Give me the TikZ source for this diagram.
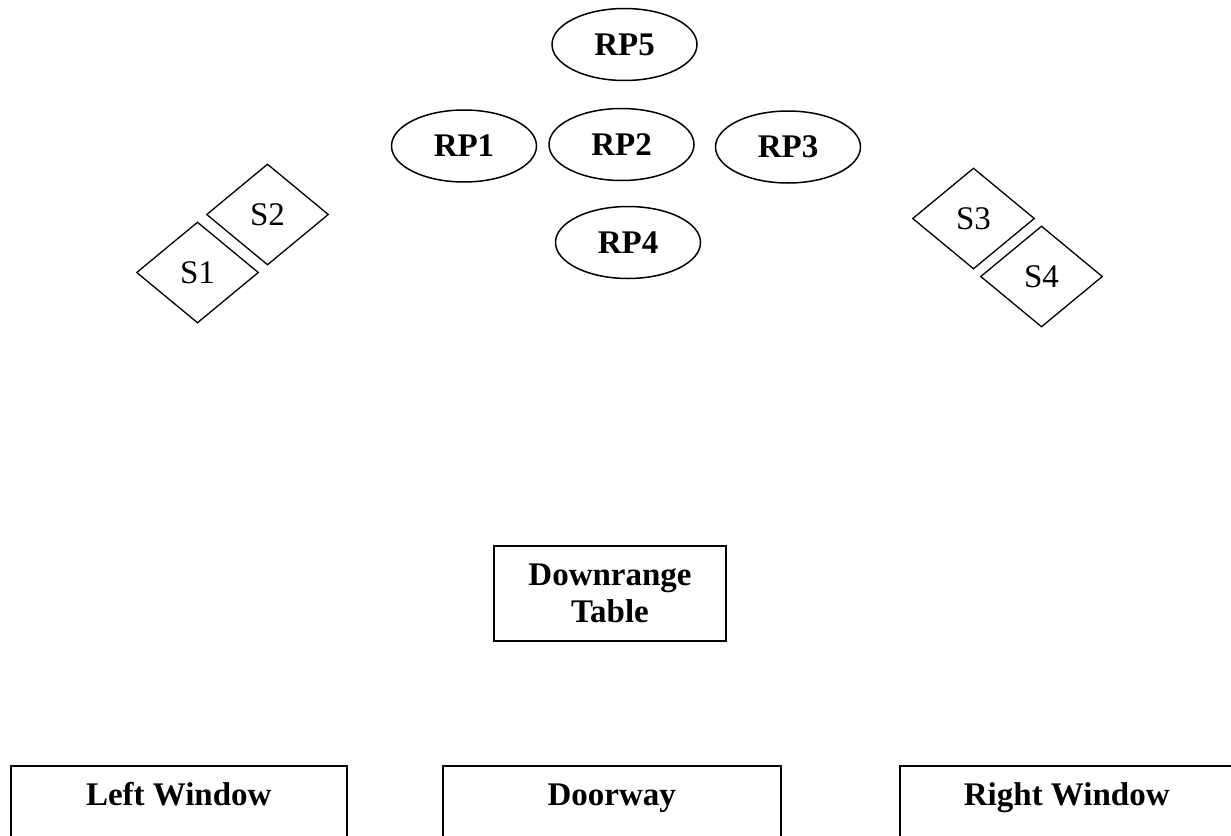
\documentclass[tikz,border=0pt]{standalone}
\usepackage{fontspec}
\setmainfont{Liberation Serif}
\usetikzlibrary{shapes.geometric}

\begin{document}
\begin{tikzpicture}[x=1pt, y=-1pt, line width=1.5pt,
    every node/.style={font=\fontsize{33}{38}\selectfont},
    rp/.style={draw, ellipse, inner sep=0pt, minimum width=145pt,
      minimum height=72pt, font=\fontsize{33}{38}\selectfont\bfseries},
    sensor/.style={draw, diamond, inner sep=0pt, minimum width=122pt,
      minimum height=101pt, line width=1.3pt},
    wall/.style={draw, rectangle, anchor=north west, minimum height=140pt},
    walllabel/.style={text height=0.68em, text depth=0.2em,
      font=\fontsize{33}{38}\selectfont\bfseries}]
  \clip (0,0) rectangle (1231,835);
  % reference points
  \node[rp] (rp5) at (624.5,44.5) {RP5};
  \node[rp] (rp1) at (464,146) {RP1};
  \node[rp] (rp2) at (621.5,144.5) {RP2};
  \node[rp] (rp3) at (788,147) {RP3};
  \node[rp] (rp4) at (628,242.5) {RP4};
  % sensors
  \node[sensor] (s1) at (197.5,272.5) {S1};
  \node[sensor] (s2) at (267.5,214.5) {S2};
  \node[sensor] (s3) at (973.5,218.5) {S3};
  \node[sensor] (s4) at (1041.5,276.5) {S4};
  % table
  \node[draw, minimum width=232pt, minimum height=95pt, align=center,
    font=\fontsize{33}{37}\selectfont\bfseries]
    (table) at (610,593.5) {Downrange\\Table};
  % walls
  \node[wall, minimum width=336pt] (lwin) at (10,765) {};
  \node[wall, minimum width=338pt] (door) at (442,765) {};
  \node[wall, minimum width=334pt] (rwin) at (899,765) {};
  \node[walllabel] (lwintext) at ([yshift=-38pt]lwin.north) {Left Window};
  \node[walllabel] (doortext) at ([yshift=-38pt]door.north) {Doorway};
  \node[walllabel] (rwintext) at ([yshift=-38pt]rwin.north) {Right Window};
\end{tikzpicture}
\end{document}
